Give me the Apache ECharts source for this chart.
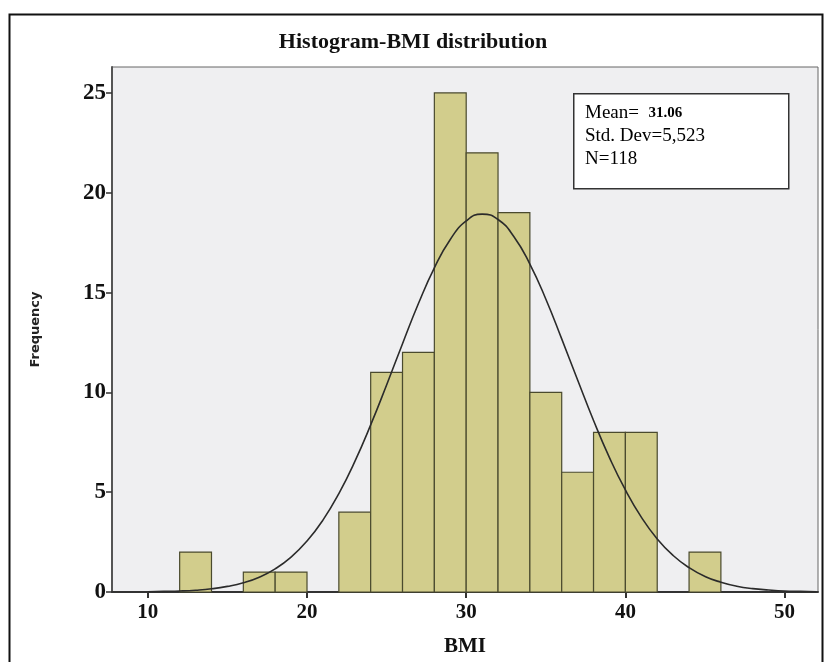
<!DOCTYPE html>
<html>
<head>
<meta charset="utf-8">
<script src="https://cdn.jsdelivr.net/npm/echarts@6/dist/echarts.min.js"></script>
<style>
  html, body { margin: 0; padding: 0; background: #fff; }
  #chart { width: 826px; height: 662px; }
</style>
</head>
<body>
<div id="chart"></div>
<script>
// ===== data =====
const binStarts = [12, 16, 18, 22, 24, 26, 28, 30, 32, 34, 36, 38, 40, 44];
const binCounts = [2, 1, 1, 4, 11, 12, 25, 22, 19, 10, 6, 8, 8, 2];
const binWidth = 2;

// fitted normal curve at each BMI unit
const curveX = [10, 11, 12, 13, 14, 15, 16, 17, 18, 19, 20, 21, 22, 23, 24, 25, 26, 27, 28, 29, 30, 31,
                32, 33, 34, 35, 36, 37, 38, 39, 40, 41, 42, 43, 44, 45, 46, 47, 48, 49, 50, 51, 52];
const curveY = [0.01, 0.03, 0.05, 0.09, 0.16, 0.28, 0.46, 0.74, 1.16, 1.75, 2.55, 3.60, 4.93, 6.53, 8.37, 10.37, 12.44, 14.45, 16.24, 17.66, 18.59, 18.93,
                18.66, 17.80, 16.43, 14.68, 12.68, 10.62, 8.59, 6.73, 5.11, 3.75, 2.66, 1.83, 1.22, 0.78, 0.49, 0.29, 0.17, 0.10, 0.05, 0.03, 0.01];

const xTicks = [10, 20, 30, 40, 50];
const yTicks = [0, 5, 10, 15, 20, 25];

const statLines = ['Mean=', 'Std. Dev=5,523', 'N=118'];
const meanValue = '31.06';

const serif = '"Liberation Serif", "DejaVu Serif", serif';

const chart = echarts.init(document.getElementById('chart'));

const option = {
    animation: false,
    backgroundColor: '#fff',
    title: {
        text: 'Histogram-BMI distribution',
        left: 'center',
        top: 26,
        textStyle: { fontFamily: serif, fontSize: 22, fontWeight: 'bold', color: '#111' }
    },
    grid: {
        left: 112, top: 67, right: 8, bottom: 65,
        show: true,
        backgroundColor: '#efeff1',
        borderColor: '#666',
        borderWidth: 1
    },
    xAxis: {
        type: 'value',
        min: 7.75,
        max: 52.1,
        name: 'BMI',
        nameLocation: 'middle',
        nameGap: 44,
        nameTextStyle: { fontFamily: serif, fontSize: 21, fontWeight: 'bold', color: '#111' },
        axisLine: { onZero: false, lineStyle: { color: '#333', width: 2 } },
        axisTick: { show: true, customValues: xTicks, length: 6, lineStyle: { color: '#333', width: 2 } },
        axisLabel: {
            customValues: xTicks,
            fontFamily: serif, fontSize: 21, fontWeight: 'bold', color: '#111', margin: 10
        },
        splitLine: { show: false }
    },
    yAxis: {
        type: 'value',
        min: 0,
        max: 26.3,
        name: 'Frequency',
        nameLocation: 'middle',
        nameGap: 70,
        nameRotate: 90,
        nameTextStyle: { fontFamily: '"DejaVu Sans", sans-serif', fontSize: 13, fontWeight: 'bold', color: '#222' },
        axisLine: { show: true, lineStyle: { color: '#555', width: 2 } },
        axisTick: { show: true, customValues: yTicks, length: 6, lineStyle: { color: '#333', width: 1.5 } },
        axisLabel: {
            customValues: yTicks,
            fontFamily: serif, fontSize: 23, fontWeight: 'bold', color: '#111', margin: 6
        },
        splitLine: { show: false }
    },
    series: [
        {
            type: 'custom',
            name: 'bins',
            data: binStarts.map((s, i) => [s, s + binWidth, binCounts[i]]),
            encode: { x: [0, 1], y: 2 },
            renderItem: function (params, api) {
                const p0 = api.coord([api.value(0), 0]);
                const p1 = api.coord([api.value(1), api.value(2)]);
                return {
                    type: 'rect',
                    shape: { x: p0[0], y: p1[1], width: p1[0] - p0[0], height: p0[1] - p1[1] },
                    style: { fill: '#d2cd8c', stroke: '#4a4a2e', lineWidth: 1.2 }
                };
            },
            z: 2
        },
        {
            type: 'line',
            name: 'normal',
            data: curveX.map((x, i) => [x, curveY[i]]),
            smooth: true,
            showSymbol: false,
            lineStyle: { color: '#2b2b2b', width: 1.6 },
            z: 3
        }
    ],
    graphic: [
        {
            type: 'rect',
            left: 7, top: 12,
            shape: { width: 813, height: 660 },
            style: { fill: 'none', stroke: '#111', lineWidth: 2 },
            silent: true
        },
        {
            type: 'rect',
            left: 573, top: 93,
            shape: { width: 215, height: 95 },
            style: { fill: '#fff', stroke: '#333', lineWidth: 1.5 },
            z: 10
        },
        {
            type: 'text',
            left: 585, top: 104,
            style: {
                text: '{a|' + statLines[0] + '  }{b|' + meanValue + '}\n{a|' + statLines[1] + '}\n{a|' + statLines[2] + '}',
                rich: {
                    a: { fontFamily: serif, fontSize: 19, color: '#222', lineHeight: 23 },
                    b: { fontFamily: serif, fontSize: 15, fontWeight: 'bold', color: '#111', lineHeight: 23 }
                }
            },
            z: 11
        }
    ]
};

chart.setOption(option);
</script>
</body>
</html>
